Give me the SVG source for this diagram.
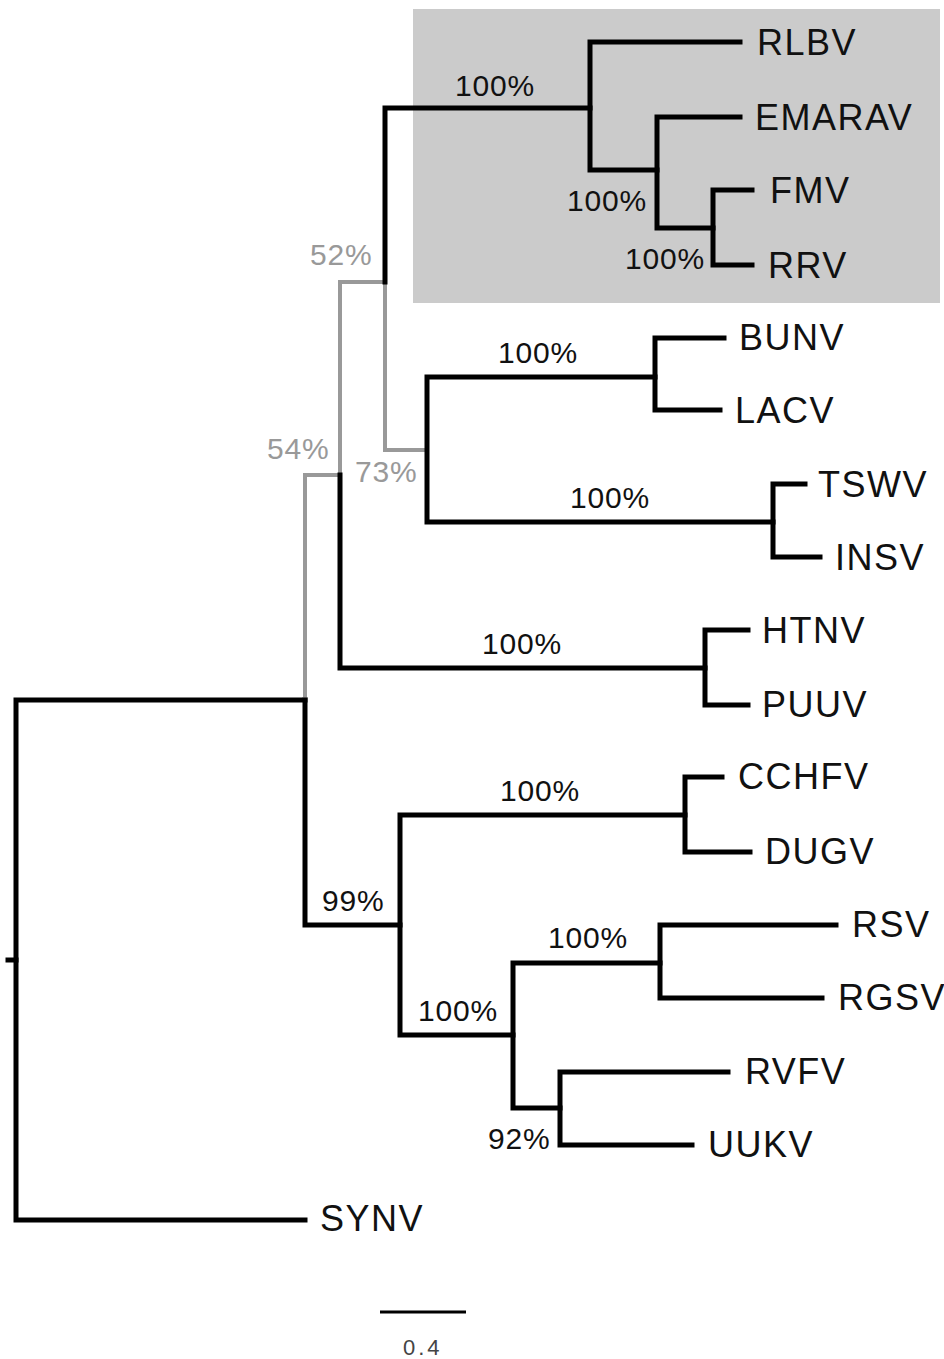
<svg xmlns="http://www.w3.org/2000/svg" width="944" height="1359" viewBox="0 0 944 1359">
<style>
.b{fill:none;stroke:#000;stroke-width:5;stroke-linecap:square;stroke-linejoin:miter}
.g{fill:none;stroke:#999;stroke-width:4;stroke-linecap:square}
.t{font-family:"Liberation Sans",Arial,sans-serif;font-size:36px;fill:#111;letter-spacing:1.5px}
.p{font-family:"Liberation Sans",Arial,sans-serif;font-size:30px;fill:#111;letter-spacing:0.8px}
.pg{font-family:"Liberation Sans",Arial,sans-serif;font-size:30px;fill:#999;letter-spacing:0.8px}
.s{font-family:"Liberation Sans",Arial,sans-serif;font-size:22px;fill:#444;letter-spacing:3px}
</style>
<rect id="highlight" x="413" y="9" width="527" height="294" fill="#cbcbcb"/>
<g id="connectors">
<path class="b" d="M305,700 H16 V1220 H305"/>
<path class="b" d="M8,960 H16"/>
<path class="g" d="M305,700 V475 H340 V282 H385 V450 H427"/>
<path class="b" d="M305,700 V925 H400"/>
<path class="b" d="M340,475 V668 H705"/>
<path class="b" d="M385,282 V108 H590"/>
<path class="b" d="M740,42 H590 V170 H657"/>
<path class="b" d="M740,117 H657 V228 H713"/>
<path class="b" d="M752,190 H713 V265 H752"/>
<path class="b" d="M655,377 H427 V522 H773"/>
<path class="b" d="M724,338 H655 V410 H720"/>
<path class="b" d="M805,484 H773 V557 H820"/>
<path class="b" d="M748,630 H705 V705 H748"/>
<path class="b" d="M685,815 H400 V1035 H513"/>
<path class="b" d="M722,777 H685 V852 H750"/>
<path class="b" d="M660,963 H513 V1108 H560"/>
<path class="b" d="M836,925 H660 V998 H822"/>
<path class="b" d="M728,1072 H560 V1145 H692"/>
</g>
<g id="taxa">
<text class="t" x="757" y="55">RLBV</text>
<text class="t" x="755" y="130">EMARAV</text>
<text class="t" x="770" y="203">FMV</text>
<text class="t" x="768" y="278">RRV</text>
<text class="t" x="739" y="350">BUNV</text>
<text class="t" x="735" y="423">LACV</text>
<text class="t" x="818" y="497">TSWV</text>
<text class="t" x="835" y="570">INSV</text>
<text class="t" x="762" y="643">HTNV</text>
<text class="t" x="762" y="717">PUUV</text>
<text class="t" x="738" y="789">CCHFV</text>
<text class="t" x="765" y="864">DUGV</text>
<text class="t" x="852" y="937">RSV</text>
<text class="t" x="838" y="1010">RGSV</text>
<text class="t" x="745" y="1084">RVFV</text>
<text class="t" x="708" y="1157">UUKV</text>
<text class="t" x="320" y="1231">SYNV</text>
</g>
<g id="support">
<text class="p" x="455" y="96">100%</text>
<text class="p" x="567" y="211">100%</text>
<text class="p" x="625" y="269">100%</text>
<text class="pg" x="310" y="265">52%</text>
<text class="pg" x="267" y="459">54%</text>
<text class="pg" x="355" y="482">73%</text>
<text class="p" x="498" y="363">100%</text>
<text class="p" x="570" y="508">100%</text>
<text class="p" x="482" y="654">100%</text>
<text class="p" x="322" y="911">99%</text>
<text class="p" x="500" y="801">100%</text>
<text class="p" x="418" y="1021">100%</text>
<text class="p" x="548" y="948">100%</text>
<text class="p" x="488" y="1149">92%</text>
</g>
<g id="scale">
<path class="b" d="M380,1312 H466" style="stroke-width:3;stroke-linecap:butt"/>
<text class="s" x="403" y="1355">0.4</text>
</g>
</svg>
